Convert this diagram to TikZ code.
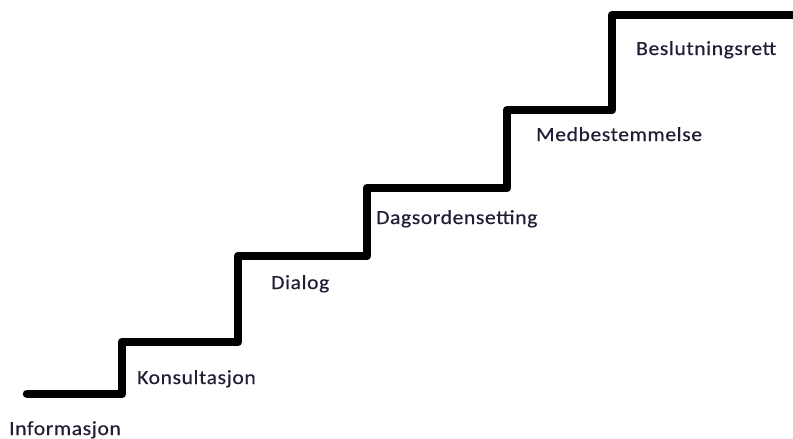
\documentclass[tikz,border=0pt]{standalone}
\usepackage{fontspec}
\setmainfont{Carlito}
\newfontfamily\stepfont[FakeStretch=1.08,LetterSpace=3,FakeBold=0.4]{Carlito}
\usetikzlibrary{positioning}
\definecolor{labelink}{RGB}{32,30,52}

\begin{document}
\begin{tikzpicture}[x=1pt,y=-1pt,
  stair/.style={line width=8.5pt,line cap=round,line join=round},
  steplabel/.style={anchor=base west,inner sep=0pt,font=\stepfont\fontsize{20}{22}\selectfont,text=labelink}]

\useasboundingbox (0,0) rectangle (793,439);

% the stairs
\draw[stair] (27,394) -- (122,394) -- (122,342) -- (238,342) -- (238,256)
  -- (367,256) -- (367,188) -- (507,188) -- (507,110) -- (612,110)
  -- (612,15) -- (800,15);

% one label per step
\node[steplabel] (info) at (9,435) {Informasjon};

\node[steplabel] (kons) at (137,384) {Konsultasjon};

\node[steplabel] (dial) at (271,289) {Dialog};

\node[steplabel] (dags) at (376,224) {Dagsordensetting};

\node[steplabel] (medb) at (536,141) {Medbestemmelse};

\node[steplabel] (besl) at (636,55) {Beslutningsrett};

\end{tikzpicture}
\end{document}
